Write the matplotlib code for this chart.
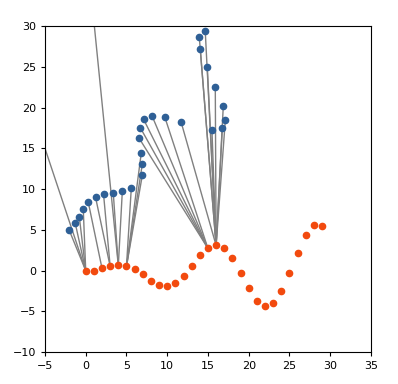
import numpy as np
import matplotlib
matplotlib.use("Agg")
import matplotlib.pyplot as plt

# orange series (x = 0..29)
orange_x = list(range(30))
orange_y = [0.0, 0.0, 0.27, 0.51, 0.63, 0.51, 0.14, -0.47, -1.25, -1.82,
            -1.94, -1.57, -0.72, 0.51, 1.86, 2.72, 3.09, 2.72, 1.49, -0.35,
            -2.19, -3.78, -4.40, -4.03, -2.56, -0.35, 2.11, 4.32, 5.54, 5.42]

# blue series (two points fall outside the view)
blue_x = [-6.0, -2.01, -1.28, -0.79, -0.30, 0.32, 1.21, 2.19, 3.38, 0.46,
          4.49, 5.59, 6.94, 6.94, 6.82, 6.57, 6.70, 7.11, 8.17, 9.72,
          11.72, 15.49, 16.76, 17.13, 16.88, 15.90, 14.92, 14.06, 13.93, 14.67]
blue_y = [18.0, 4.93, 5.79, 6.61, 7.50, 8.36, 8.98, 9.35, 9.55, 36.0,
          9.71, 10.08, 11.68, 13.03, 14.46, 16.22, 17.53, 18.55, 18.91, 18.79,
          18.18, 17.24, 17.44, 18.43, 20.14, 22.47, 24.93, 27.14, 28.70, 29.35]

# index of the orange point each blue point is matched to
match = [0, 0, 0, 0, 0, 2, 3, 3, 4, 4,
         4, 5, 5, 5, 5, 15, 15, 15, 15, 15,
         16, 16, 16, 16, 16, 16, 16, 16, 16, 16]

fig = plt.figure(figsize=(3.98, 3.84), dpi=100)
ax = fig.add_axes([0.113, 0.083, 0.819, 0.849])

for bx, by, m in zip(blue_x, blue_y, match):
    ax.plot([bx, orange_x[m]], [by, orange_y[m]], color='gray', lw=1.0, zorder=1)

ax.plot(blue_x, blue_y, 'o', color='#2f6096', ms=4.5, zorder=2)
ax.plot(orange_x, orange_y, 'o', color='#f24a0e', ms=4.5, zorder=2)

ax.set_xlim(-5, 35)
ax.set_ylim(-10, 30)
ax.set_xticks(np.arange(-5, 36, 5))
ax.set_yticks(np.arange(-10, 31, 5))
ax.tick_params(labelsize=8, length=3, width=0.8)
for s in ax.spines.values():
    s.set_linewidth(0.8)

fig.savefig("out.png", dpi=100)
